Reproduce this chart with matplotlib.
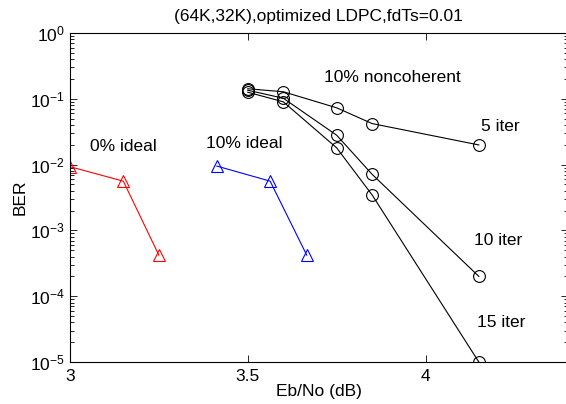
import matplotlib
matplotlib.use("Agg")
import matplotlib.pyplot as plt
from matplotlib.ticker import LogLocator, NullFormatter, FixedLocator

plt.rcParams['font.family'] = ['Liberation Sans', 'DejaVu Sans']
plt.rcParams['mathtext.fontset'] = 'custom'
plt.rcParams['mathtext.rm'] = 'Liberation Sans'
plt.rcParams['mathtext.it'] = 'Liberation Sans'

# Data
ebno_ideal0 = [3.0, 3.15, 3.25]
ber_ideal0 = [9.3e-3, 5.6e-3, 4.2e-4]
ebno_ideal10 = [3.413, 3.563, 3.666]
ber_ideal10 = [9.5e-3, 5.6e-3, 4.2e-4]
ebno_nc = [3.5, 3.6, 3.75, 3.85, 4.15]
ber_5iter = [0.142, 0.128, 0.073, 0.042, 0.0199]
ber_10iter = [0.135, 0.102, 0.028, 0.0071, 2.0e-4]
ber_15iter = [0.126, 0.090, 0.018, 0.00345, 1.0e-5]

title = "(64K,32K),optimized LDPC,fdTs=0.01"
xlabel = "Eb/No (dB)"
ylabel = "BER"
xticks = [3, 3.5, 4]
xticklabels = ["3", "3.5", "4"]

fig = plt.figure(figsize=(5.66, 4.04), dpi=100)
ax = fig.add_axes([70/566, 42/404, 497.7/566, 329/404])

lw = 0.8
ax.plot(ebno_ideal0, ber_ideal0, color='red', lw=lw, marker='^', ms=9,
        mfc='none', mec='red', mew=0.8)
ax.plot(ebno_ideal10, ber_ideal10, color='blue', lw=lw, marker='^', ms=9,
        mfc='none', mec='blue', mew=0.8)
for b in (ber_5iter, ber_10iter, ber_15iter):
    ax.plot(ebno_nc, b, color='black', lw=lw, marker='o', ms=8.5,
            mfc='none', mec='black', mew=0.8)

ax.set_yscale('log')
ax.set_xlim(3, 4.4)
ax.set_ylim(1e-5, 1)
ax.xaxis.set_major_locator(FixedLocator(xticks))
ax.set_xticklabels(xticklabels)
ax.yaxis.set_major_locator(LogLocator(base=10, numticks=10))
ax.yaxis.set_minor_locator(LogLocator(base=10, subs=range(2, 10), numticks=20))
ax.yaxis.set_minor_formatter(NullFormatter())

fs = 12.5
ax.tick_params(which='both', direction='in', top=True, right=True,
               labelsize=fs, width=0.6)
ax.tick_params(which='major', length=5)
ax.tick_params(which='minor', length=3)
ax.tick_params(axis='x', which='major', pad=5)
for s in ax.spines.values():
    s.set_linewidth(0.8)

ax.text(3.15, 0.0187, "0% ideal", ha='center', va='center', fontsize=fs)
ax.text(3.49, 0.021, "10% ideal", ha='center', va='center', fontsize=fs)
ax.text(3.907, 0.21, "10% noncoherent", ha='center', va='center', fontsize=fs)
ax.text(4.21, 0.0386, "5 iter", ha='center', va='center', fontsize=fs)
ax.text(4.205, 7.1e-4, "10 iter", ha='center', va='center', fontsize=fs)
ax.text(4.212, 3.95e-5, "15 iter", ha='center', va='center', fontsize=fs)

ax.set_title(title, fontsize=fs, pad=9)
ax.set_xlabel(xlabel, fontsize=fs, labelpad=0)
ax.set_ylabel(ylabel, fontsize=fs, labelpad=2)

fig.savefig("out.png", dpi=100)
